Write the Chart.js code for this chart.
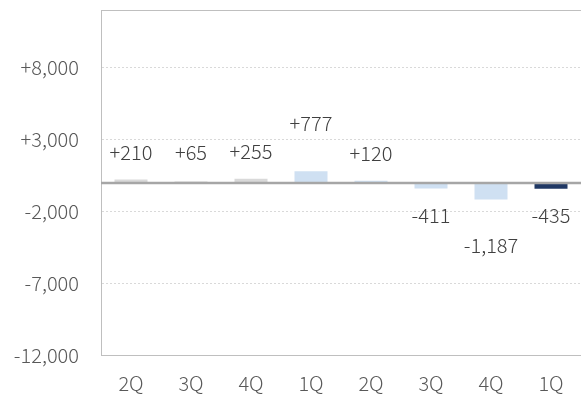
<!DOCTYPE html>
<html>
<head>
<meta charset="utf-8">
<script src="https://cdn.jsdelivr.net/npm/chart.js@4"></script>
<style>
  html, body { margin: 0; padding: 0; background: #fff; }
  #wrap { width: 581px; height: 398px; }
</style>
</head>
<body>
<div id="wrap"><canvas id="chart"></canvas></div>
<script>
// quarters along the bottom
const quarters = ["2Q", "3Q", "4Q", "1Q", "2Q", "3Q", "4Q", "1Q"];
// change per quarter
const changes = [210, 65, 255, 777, 120, -411, -1187, -435];
// where each value label sits (in axis units)
const labelAnchor = [2100, 2100, 2150, 4100, 2000, -2300, -4400, -2300];
// y axis
const yMin = -12000;
const yMax = 12000;
const yTicks = [-12000, -7000, -2000, 3000, 8000];

const barColors = ["#d9d9d9", "#d9d9d9", "#d9d9d9", "#cfe0f2", "#cfe0f2", "#cfe0f2", "#cfe0f2", "#203864"];
const FONT = "'Noto Sans CJK JP', 'Noto Sans', sans-serif";

function signed(v) {
  const s = Math.abs(v).toLocaleString("en-US");
  return (v > 0 ? "+" : v < 0 ? "-" : "") + s;
}

// value labels + zero line + top frame line
const extras = {
  id: "extras",
  afterDatasetsDraw(chart) {
    const { ctx, chartArea } = chart;
    const y = chart.scales.y;
    const meta = chart.getDatasetMeta(0);

    ctx.save();
    // top frame
    ctx.strokeStyle = "#bfbfbf";
    ctx.lineWidth = 1;
    ctx.beginPath();
    ctx.moveTo(chartArea.left, chartArea.top + 0.5);
    ctx.lineTo(chartArea.right, chartArea.top + 0.5);
    ctx.stroke();

    // zero line
    const z = Math.round(y.getPixelForValue(0));
    ctx.strokeStyle = "#a6a6a6";
    ctx.lineWidth = 2.5;
    ctx.beginPath();
    ctx.moveTo(chartArea.left, z);
    ctx.lineTo(chartArea.right, z);
    ctx.stroke();

    // labels
    ctx.fillStyle = "#404040";
    ctx.font = "300 20px " + FONT;
    ctx.textAlign = "center";
    ctx.textBaseline = "middle";
    meta.data.forEach((bar, i) => {
      ctx.fillText(signed(changes[i]), bar.x, y.getPixelForValue(labelAnchor[i]));
    });
    ctx.restore();
  }
};

new Chart(document.getElementById("chart"), {
  type: "bar",
  data: {
    labels: quarters,
    datasets: [
      {
        data: changes,
        backgroundColor: barColors,
        borderWidth: 0,
        barPercentage: 0.55,
        categoryPercentage: 1,
      },
    ],
  },
  options: {
    responsive: true,
    maintainAspectRatio: false,
    animation: false,
    layout: { padding: { top: 10, right: 0, left: 0, bottom: 0 } },
    plugins: {
      legend: { display: false },
      tooltip: { enabled: false },
    },
    scales: {
      x: {
        grid: { display: false },
        border: { color: "#bfbfbf", width: 1 },
        ticks: {
          color: "#595959",
          font: { family: FONT, size: 20, weight: 300 },
          padding: 8,
          maxRotation: 0,
        },
        afterFit(scale) { scale.height = 43; },
      },
      y: {
        min: yMin,
        max: yMax,
        grid: {
          color: "#d9d9d9",
          lineWidth: 1,
          drawTicks: false,
        },
        border: { color: "#bfbfbf", width: 1, dash: [2, 2] },
        afterBuildTicks(scale) {
          scale.ticks = yTicks.map((v) => ({ value: v }));
        },
        ticks: {
          color: "#595959",
          font: { family: FONT, size: 20, weight: 300 },
          padding: 22,
          callback: (v) => signed(v),
        },
        afterFit(scale) {
          scale.width = 101;
          scale.paddingTop = 0;
        },
      },
    },
  },
  plugins: [extras],
});
</script>
</body>
</html>
